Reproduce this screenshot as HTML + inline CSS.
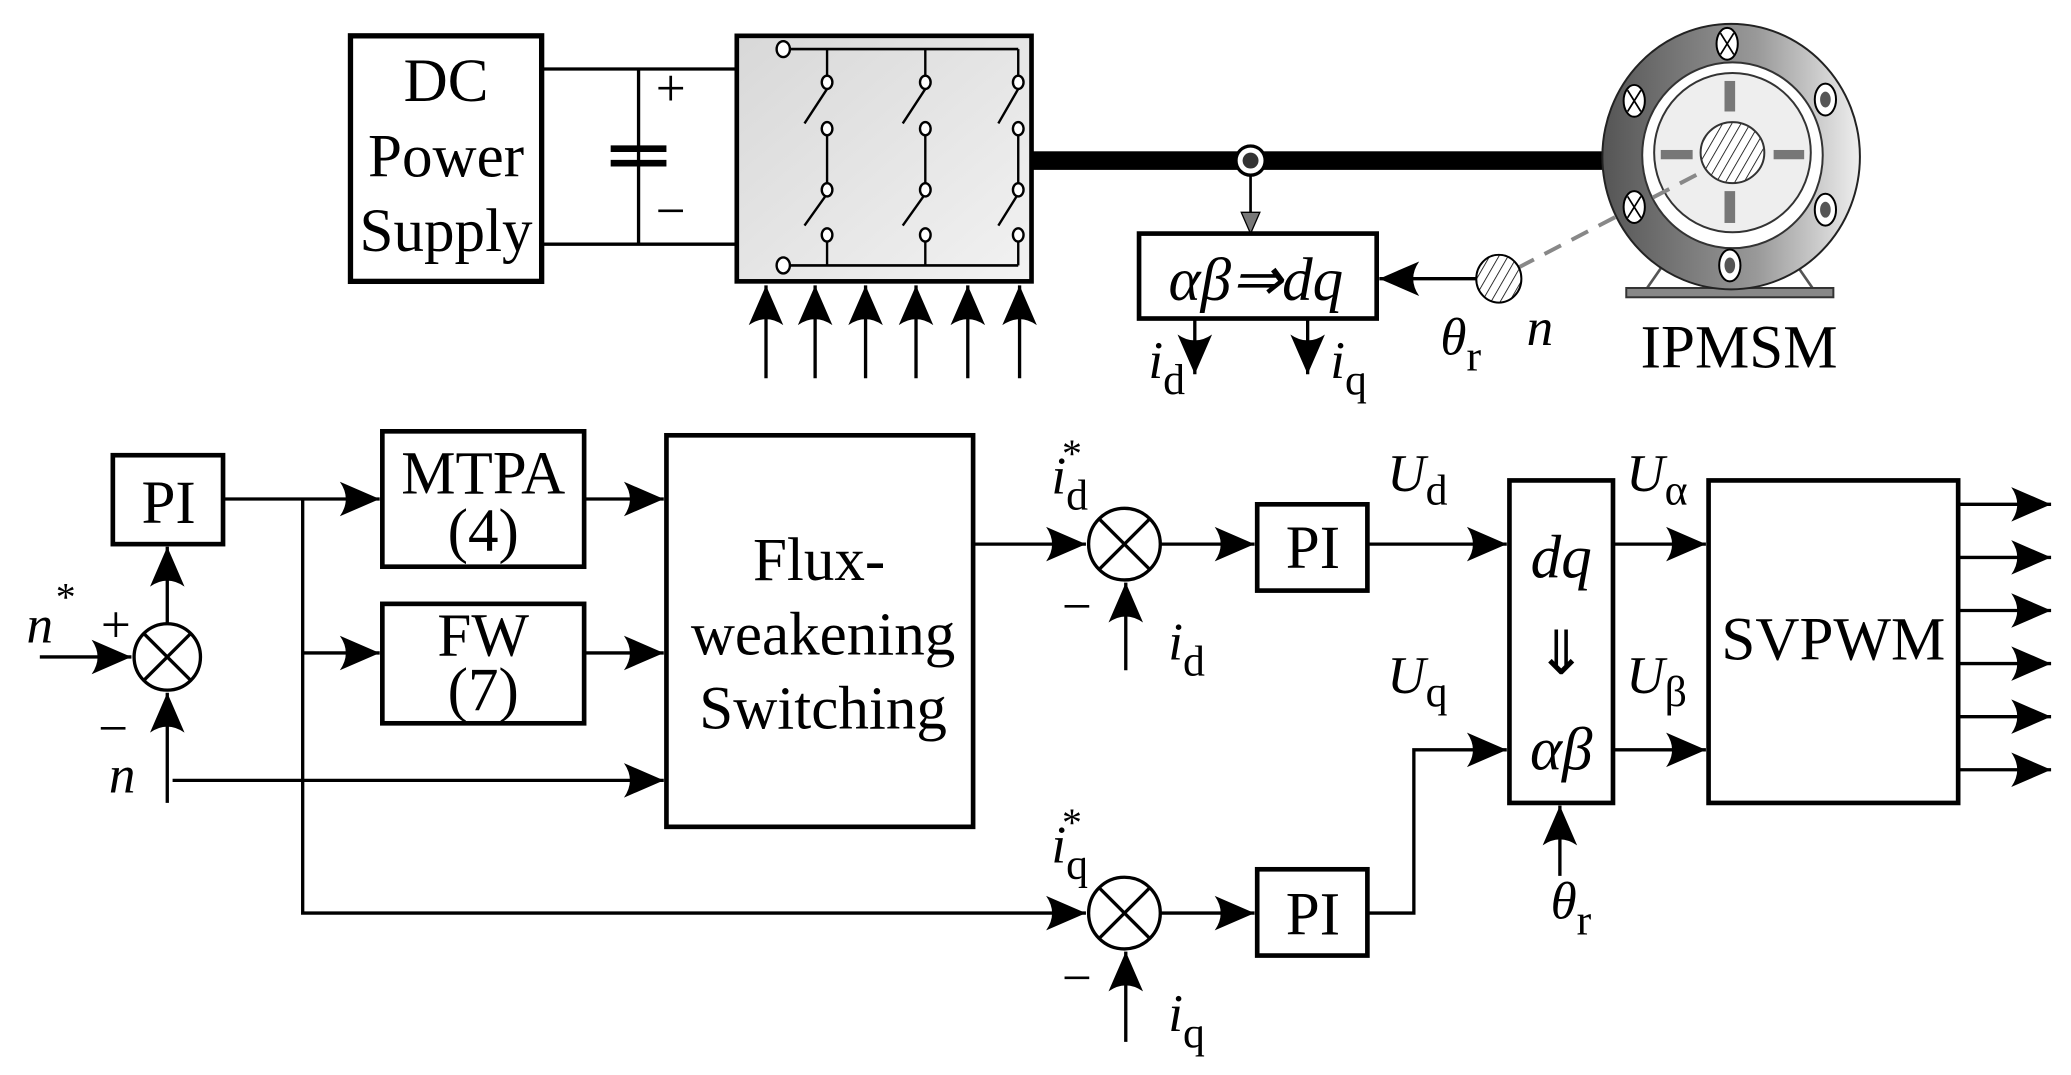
<!DOCTYPE html>
<html><head><meta charset="utf-8"><style>
html,body{margin:0;padding:0;background:#fff}
svg{display:block}
text{font-family:"Liberation Serif",serif;fill:#000}
.i{font-style:italic}
</style></head><body>
<svg width="2071" height="1075" viewBox="0 0 1560 810" preserveAspectRatio="none" xmlns="http://www.w3.org/2000/svg">
<defs>
<marker id="a" markerUnits="userSpaceOnUse" markerWidth="32" markerHeight="28" refX="30" refY="13" orient="auto" overflow="visible">
<path d="M30,13 L0,0 Q9,13 0,26 Z" fill="#000"/></marker>
<marker id="g" markerUnits="userSpaceOnUse" markerWidth="20" markerHeight="20" refX="16" refY="7" orient="auto" overflow="visible">
<path d="M16,7 L0,0 L0,14 Z" fill="#777" stroke="#000" stroke-width="1"/></marker>
<linearGradient id="inv" x1="0" y1="0" x2="1" y2="1"><stop offset="0" stop-color="#d8d8d8"/><stop offset="1" stop-color="#f2f2f2"/></linearGradient>
<linearGradient id="mot" x1="0" y1="0" x2="1" y2="0"><stop offset="0" stop-color="#555"/><stop offset="0.6" stop-color="#999"/><stop offset="1" stop-color="#eee"/></linearGradient>
<pattern id="h" width="6" height="6" patternUnits="userSpaceOnUse" patternTransform="rotate(30)"><rect width="6" height="6" fill="#fff"/><line x1="0" y1="0" x2="0" y2="6" stroke="#000" stroke-width="1.2"/></pattern>
</defs>
<g stroke="#000" fill="none" stroke-width="2.5">
<rect x="264" y="27" width="144" height="185" stroke-width="4"/>
<line x1="408" y1="52" x2="555" y2="52"/><line x1="408" y1="184" x2="555" y2="184"/>
<line x1="481" y1="52" x2="481" y2="184"/>
<line x1="460" y1="112" x2="502" y2="112" stroke-width="5"/><line x1="460" y1="123" x2="502" y2="123" stroke-width="5"/>
<rect x="555" y="27" width="222" height="185" fill="url(#inv)" stroke-width="3.5"/>
<line x1="594" y1="37" x2="767" y2="37" stroke-width="2"/><line x1="594" y1="200" x2="767" y2="200" stroke-width="2"/>
<g stroke-width="1.8">
<line x1="623" y1="37" x2="623" y2="57"/><line x1="623" y1="101" x2="623" y2="138"/><line x1="623" y1="181" x2="623" y2="200"/>
<line x1="606" y1="93" x2="623" y2="67"/><line x1="606" y1="170" x2="623" y2="146"/>
<line x1="697" y1="37" x2="697" y2="57"/><line x1="697" y1="101" x2="697" y2="138"/><line x1="697" y1="181" x2="697" y2="200"/>
<line x1="680" y1="93" x2="697" y2="67"/><line x1="680" y1="170" x2="697" y2="146"/>
<line x1="767" y1="37" x2="767" y2="57"/><line x1="767" y1="101" x2="767" y2="138"/><line x1="767" y1="181" x2="767" y2="200"/>
<line x1="752" y1="93" x2="767" y2="67"/><line x1="752" y1="170" x2="767" y2="146"/>
</g>
<g fill="#fff" stroke-width="1.8">
<ellipse cx="590" cy="37" rx="5" ry="6"/><ellipse cx="590" cy="200" rx="5" ry="6"/>
<ellipse cx="623" cy="62" rx="4" ry="5"/><ellipse cx="623" cy="97" rx="4" ry="5"/><ellipse cx="623" cy="143" rx="4" ry="5"/><ellipse cx="623" cy="177" rx="4" ry="5"/>
<ellipse cx="697" cy="62" rx="4" ry="5"/><ellipse cx="697" cy="97" rx="4" ry="5"/><ellipse cx="697" cy="143" rx="4" ry="5"/><ellipse cx="697" cy="177" rx="4" ry="5"/>
<ellipse cx="767" cy="62" rx="4" ry="5"/><ellipse cx="767" cy="97" rx="4" ry="5"/><ellipse cx="767" cy="143" rx="4" ry="5"/><ellipse cx="767" cy="177" rx="4" ry="5"/>
</g>
<g marker-end="url(#a)">
<line x1="577" y1="285" x2="577" y2="215"/><line x1="614" y1="285" x2="614" y2="215"/><line x1="652" y1="285" x2="652" y2="215"/>
<line x1="690" y1="285" x2="690" y2="215"/><line x1="729" y1="285" x2="729" y2="215"/><line x1="768" y1="285" x2="768" y2="215"/>
</g>
<rect x="777" y="114" width="434" height="14" fill="#000" stroke="none"/>
<circle cx="942" cy="121" r="11" fill="#fff" stroke-width="2.5"/>
<circle cx="942" cy="121" r="6" fill="#333" stroke="none"/>
<line x1="942" y1="131" x2="942" y2="176" stroke-width="2" marker-end="url(#g)"/>
<rect x="858" y="176" width="179" height="64" stroke-width="3.5"/>
<line x1="900" y1="240" x2="900" y2="282" marker-end="url(#a)"/>
<line x1="985" y1="240" x2="985" y2="282" marker-end="url(#a)"/>
<line x1="1112" y1="210" x2="1039" y2="210" marker-end="url(#a)"/>
<line x1="1240" y1="218" x2="1256" y2="195" stroke="#555" stroke-width="2"/><line x1="1366" y1="218" x2="1350" y2="195" stroke="#555" stroke-width="2"/>
<rect x="1225" y="217" width="156" height="7" fill="#888" stroke="#333" stroke-width="1.5"/>
<ellipse cx="1304" cy="118" rx="97" ry="100" fill="url(#mot)" stroke="#222" stroke-width="1.5"/>
<ellipse cx="1305" cy="117" rx="68" ry="70" fill="#fff" stroke="#333" stroke-width="1.5"/>
<ellipse cx="1305" cy="115" rx="59" ry="60" fill="#eee" stroke="#333" stroke-width="1.5"/>
<g fill="#777" stroke="none">
<rect x="1299" y="61" width="8" height="23"/><rect x="1299" y="144" width="8" height="24"/>
<rect x="1251" y="113" width="24" height="7"/><rect x="1336" y="113" width="23" height="7"/>
</g>
<ellipse cx="1305" cy="115" rx="24" ry="23" fill="url(#h)" stroke="#333" stroke-width="1.5"/>
<line x1="1143" y1="202" x2="1285" y2="128" stroke="#888" stroke-width="3" stroke-dasharray="14,9"/>
<ellipse cx="1129" cy="210" rx="17" ry="18" fill="url(#h)" stroke-width="1.5"/>
<g stroke-width="1.5" fill="#fff">
<ellipse cx="1301" cy="33" rx="8" ry="12"/><ellipse cx="1231" cy="76" rx="8" ry="12"/><ellipse cx="1231" cy="156" rx="8" ry="12"/>
<ellipse cx="1375" cy="75" rx="8" ry="12"/><ellipse cx="1375" cy="158" rx="8" ry="12"/><ellipse cx="1303" cy="200" rx="8" ry="12"/>
</g>
<g fill="#555" stroke="none"><ellipse cx="1375" cy="75" rx="4" ry="6"/><ellipse cx="1375" cy="158" rx="4" ry="6"/><ellipse cx="1303" cy="200" rx="4" ry="6"/></g>
<g stroke-width="1.3"><path d="M1296,25 L1306,41 M1306,25 L1296,41 M1226,68 L1236,84 M1236,68 L1226,84 M1226,148 L1236,164 M1236,148 L1226,164"/></g>

<rect x="85" y="343" width="83" height="67" stroke-width="3.5"/>
<circle cx="126" cy="495" r="25"/>
<line x1="108" y1="477" x2="144" y2="513"/><line x1="144" y1="477" x2="108" y2="513"/>
<line x1="126" y1="470" x2="126" y2="412" marker-end="url(#a)"/>
<line x1="30" y1="495" x2="99" y2="495" marker-end="url(#a)"/>
<line x1="126" y1="605" x2="126" y2="522" marker-end="url(#a)"/>
<line x1="130" y1="588" x2="500" y2="588" marker-end="url(#a)"/>
<line x1="168" y1="376" x2="286" y2="376" marker-end="url(#a)"/>
<polyline points="228,376 228,688 818,688" marker-end="url(#a)"/>
<line x1="228" y1="492" x2="286" y2="492" marker-end="url(#a)"/>
<rect x="288" y="325" width="152" height="102" stroke-width="3.5"/>
<rect x="288" y="455" width="152" height="90" stroke-width="3.5"/>
<line x1="440" y1="376" x2="500" y2="376" marker-end="url(#a)"/>
<line x1="440" y1="492" x2="500" y2="492" marker-end="url(#a)"/>
<rect x="502" y="328" width="231" height="295" stroke-width="3.5"/>
<line x1="733" y1="410" x2="818" y2="410" marker-end="url(#a)"/>
<circle cx="847" cy="410" r="27"/><line x1="828" y1="391" x2="866" y2="429"/><line x1="866" y1="391" x2="828" y2="429"/>
<line x1="848" y1="505" x2="848" y2="439" marker-end="url(#a)"/>
<line x1="874" y1="410" x2="945" y2="410" marker-end="url(#a)"/>
<rect x="947" y="380" width="83" height="65" stroke-width="3.5"/>
<line x1="1030" y1="410" x2="1135" y2="410" marker-end="url(#a)"/>
<circle cx="847" cy="688" r="27"/><line x1="828" y1="669" x2="866" y2="707"/><line x1="866" y1="669" x2="828" y2="707"/>
<line x1="848" y1="785" x2="848" y2="717" marker-end="url(#a)"/>
<line x1="874" y1="688" x2="945" y2="688" marker-end="url(#a)"/>
<rect x="947" y="655" width="83" height="65" stroke-width="3.5"/>
<polyline points="1030,688 1065,688 1065,565 1135,565" marker-end="url(#a)"/>
<rect x="1137" y="362" width="78" height="243" stroke-width="3.5"/>
<line x1="1175" y1="660" x2="1175" y2="607" marker-end="url(#a)"/>
<line x1="1215" y1="410" x2="1285" y2="410" marker-end="url(#a)"/>
<line x1="1215" y1="565" x2="1285" y2="565" marker-end="url(#a)"/>
<rect x="1287" y="362" width="188" height="243" stroke-width="3.5"/>
<g marker-end="url(#a)">
<line x1="1475" y1="380" x2="1545" y2="380"/><line x1="1475" y1="420" x2="1545" y2="420"/><line x1="1475" y1="460" x2="1545" y2="460"/>
<line x1="1475" y1="500" x2="1545" y2="500"/><line x1="1475" y1="540" x2="1545" y2="540"/><line x1="1475" y1="580" x2="1545" y2="580"/>
</g>
</g>
<g font-size="46" text-anchor="middle">
<text x="336" y="76">DC</text><text x="336" y="133">Power</text><text x="336" y="189">Supply</text>
<text x="1310" y="277">IPMSM</text>
<text x="127" y="394">PI</text>
<text x="364" y="372">MTPA</text><text x="364" y="415">(4)</text>
<text x="364" y="494">FW</text><text x="364" y="535">(7)</text>
<text x="617" y="437">Flux-</text><text x="620" y="493">weakening</text><text x="620" y="549">Switching</text>
<text x="989" y="428">PI</text><text x="989" y="704">PI</text>
<text x="1381" y="497">SVPWM</text>
<text x="1176" y="435" class="i">dq</text><text x="1176" y="508">⇓</text><text x="1176" y="580" class="i">αβ</text>
<text x="946" y="226" class="i">αβ⇒dq</text>
</g>
<g font-size="40">
<text x="494" y="80">+</text><text x="494" y="172">−</text>
<text x="76" y="484">+</text><text x="74" y="562">−</text><text x="800" y="470">−</text><text x="800" y="750">−</text>
<text x="20" y="484" class="i">n<tspan dx="2" dy="-24" font-size="30" font-style="normal">*</tspan></text>
<text x="82" y="597" class="i">n</text>
<text x="1150" y="260" class="i">n</text>
<text x="1085" y="267" class="i">θ<tspan dy="12" font-size="33" font-style="normal">r</tspan></text>
<text x="1168" y="692" class="i">θ<tspan dy="12" font-size="33" font-style="normal">r</tspan></text>
<text x="865" y="285" class="i">i<tspan dy="12" font-size="33" font-style="normal">d</tspan></text>
<text x="1002" y="285" class="i">i<tspan dy="12" font-size="33" font-style="normal">q</tspan></text>
<text x="880" y="497" class="i">i<tspan dy="12" font-size="33" font-style="normal">d</tspan></text>
<text x="880" y="777" class="i">i<tspan dy="12" font-size="33" font-style="normal">q</tspan></text>
<text x="792" y="372" class="i">i<tspan dy="12" font-size="33" font-style="normal">d</tspan></text><text x="800" y="352" font-size="30">*</text>
<text x="792" y="650" class="i">i<tspan dy="12" font-size="33" font-style="normal">q</tspan></text><text x="800" y="630" font-size="30">*</text>
<text x="1045" y="370" class="i">U<tspan dy="10" font-size="33" font-style="normal">d</tspan></text>
<text x="1045" y="522" class="i">U<tspan dy="10" font-size="33" font-style="normal">q</tspan></text>
<text x="1225" y="370" class="i">U<tspan dy="10" font-size="33" font-style="normal">α</tspan></text>
<text x="1225" y="522" class="i">U<tspan dy="10" font-size="33" font-style="normal">β</tspan></text>
</g>
</svg>
</body></html>
